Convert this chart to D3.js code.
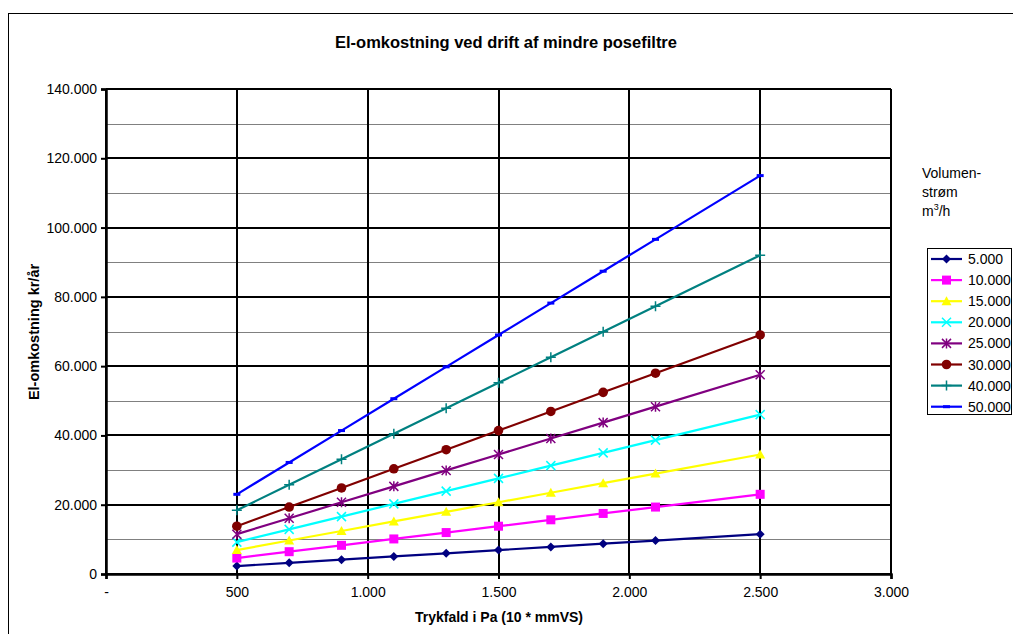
<!DOCTYPE html>
<html>
<head>
<meta charset="utf-8">
<script src="https://cdn.jsdelivr.net/npm/d3@7"></script>
<style>
  html, body { margin: 0; padding: 0; background: #fff; }
  svg { display: block; font-family: "Liberation Sans", Arial, sans-serif; }
</style>
</head>
<body>
<svg id="chart" width="1013" height="634"></svg>
<script>
// Pressure drop (Pa) at which the cost was computed
const pressureDrops = [500, 700, 900, 1100, 1300, 1500, 1700, 1900, 2100, 2500];

// Yearly electricity cost (kr/år) per air flow (m³/h)
const flow5000  = [2300, 3220, 4140, 5060, 5980, 6900, 7820, 8740, 9660, 11500];
const flow10000 = [4600, 6440, 8280, 10120, 11960, 13800, 15640, 17480, 19320, 23000];
const flow15000 = [6900, 9660, 12420, 15180, 17940, 20700, 23460, 26220, 28980, 34500];
const flow20000 = [9200, 12880, 16560, 20240, 23920, 27600, 31280, 34960, 38640, 46000];
const flow25000 = [11500, 16100, 20700, 25300, 29900, 34500, 39100, 43700, 48300, 57500];
const flow30000 = [13800, 19320, 24840, 30360, 35880, 41400, 46920, 52440, 57960, 69000];
const flow40000 = [18400, 25760, 33120, 40480, 47840, 55200, 62560, 69920, 77280, 92000];
const flow50000 = [23000, 32200, 41400, 50600, 59800, 69000, 78200, 87400, 96600, 115000];

const seriesNames = ["5.000", "10.000", "15.000", "20.000", "25.000", "30.000", "40.000", "50.000"];
const seriesValues = [flow5000, flow10000, flow15000, flow20000, flow25000, flow30000, flow40000, flow50000];
const seriesColors = ["#000080", "#FF00FF", "#FFFF00", "#00FFFF", "#800080", "#800000", "#008080", "#0000FF"];
const seriesMarkers = ["diamond", "square", "triangle", "cross", "star", "circle", "plus", "dash"];

const xTicks = [0, 500, 1000, 1500, 2000, 2500, 3000];
const yTicks = [0, 20000, 40000, 60000, 80000, 100000, 120000, 140000];
const yMinorTicks = [10000, 30000, 50000, 70000, 90000, 110000, 130000];

const svg = d3.select("#chart");
const plot = { left: 106, top: 89, right: 891, bottom: 574 };
const FONT = "Liberation Sans, Arial, sans-serif";

const x = d3.scaleLinear().domain([0, 3000]).range([plot.left, plot.right]);
const y = d3.scaleLinear().domain([0, 140000]).range([plot.bottom, plot.top]);

const dotted = v => d3.format(",")(v).replace(/,/g, ".");
const fmtX = v => v === 0 ? "-" : dotted(v);
const fmtY = v => v === 0 ? "0" : dotted(v);

// outer chart frame
svg.append("rect")
  .attr("x", 8.5).attr("y", 13.5)
  .attr("width", 1010).attr("height", 630)
  .attr("fill", "none").attr("stroke", "#000").attr("stroke-width", 1);

// title
svg.append("text")
  .attr("x", 506).attr("y", 48)
  .attr("text-anchor", "middle")
  .attr("font-size", 16.5).attr("font-weight", "bold")
  .text("El-omkostning ved drift af mindre posefiltre");

const grid = svg.append("g");

// minor horizontal gridlines
grid.selectAll("line.minor").data(yMinorTicks).enter().append("line")
  .attr("x1", plot.left).attr("x2", plot.right)
  .attr("y1", d => Math.round(y(d)) + 0.5).attr("y2", d => Math.round(y(d)) + 0.5)
  .attr("stroke", "#808080").attr("stroke-width", 1);

// major horizontal gridlines
grid.selectAll("line.hmajor").data(yTicks).enter().append("line")
  .attr("x1", plot.left).attr("x2", plot.right)
  .attr("y1", d => Math.round(y(d))).attr("y2", d => Math.round(y(d)))
  .attr("stroke", "#000").attr("stroke-width", 2);

// vertical gridlines
grid.selectAll("line.vmajor").data(xTicks).enter().append("line")
  .attr("x1", d => Math.round(x(d))).attr("x2", d => Math.round(x(d)))
  .attr("y1", plot.top).attr("y2", plot.bottom)
  .attr("stroke", "#000").attr("stroke-width", 2);

// axes
const yAxis = d3.axisLeft(y).tickValues(yTicks).tickFormat(fmtY).tickSize(5).tickPadding(4);
const gy = svg.append("g").attr("transform", `translate(${plot.left},0)`).call(yAxis);
gy.select(".domain").attr("stroke-width", 2.5);
gy.selectAll(".tick line").attr("stroke-width", 2);
gy.selectAll(".tick text").attr("font-size", 14).attr("font-family", FONT).attr("fill", "#000");

const xAxis = d3.axisBottom(x).tickValues(xTicks).tickFormat(fmtX).tickSize(5).tickPadding(8);
const gx = svg.append("g").attr("transform", `translate(0,${plot.bottom})`).call(xAxis);
gx.select(".domain").attr("stroke-width", 2.5);
gx.selectAll(".tick line").attr("stroke-width", 2);
gx.selectAll(".tick text").attr("font-size", 14).attr("font-family", FONT).attr("fill", "#000");

// axis titles
svg.append("text")
  .attr("x", 499).attr("y", 622)
  .attr("text-anchor", "middle")
  .attr("font-size", 14).attr("font-weight", "bold")
  .text("Trykfald i Pa (10 * mmVS)");

svg.append("text")
  .attr("transform", "translate(39,332) rotate(-90)")
  .attr("text-anchor", "middle")
  .attr("font-size", 14.5).attr("font-weight", "bold")
  .text("El-omkostning kr/år");

// marker drawing
function drawMarker(g, type, color) {
  switch (type) {
    case "diamond":
      g.append("path").attr("d", "M0,-4.5L4.5,0L0,4.5L-4.5,0Z").attr("fill", color);
      break;
    case "square":
      g.append("rect").attr("x", -4.5).attr("y", -4.5).attr("width", 9).attr("height", 9).attr("fill", color);
      break;
    case "triangle":
      g.append("path").attr("d", "M0,-5L5,4L-5,4Z").attr("fill", color);
      break;
    case "cross":
      g.append("path").attr("d", "M-4.5,-4.5L4.5,4.5M-4.5,4.5L4.5,-4.5").attr("stroke", color).attr("stroke-width", 1.5);
      break;
    case "star":
      g.append("path").attr("d", "M-4.5,-4.5L4.5,4.5M-4.5,4.5L4.5,-4.5M0,-5L0,5").attr("stroke", color).attr("stroke-width", 1.5);
      break;
    case "circle":
      g.append("circle").attr("r", 4.8).attr("fill", color);
      break;
    case "plus":
      g.append("path").attr("d", "M-5,0L5,0M0,-5L0,5").attr("stroke", color).attr("stroke-width", 1.5);
      break;
    case "dash":
      g.append("rect").attr("x", -3.5).attr("y", -1.5).attr("width", 7).attr("height", 3).attr("fill", color);
      break;
  }
}

const line = d3.line().x((d, i) => x(pressureDrops[i])).y(d => y(d));

const seriesG = svg.append("g");
seriesValues.forEach((vals, s) => {
  const color = seriesColors[s];
  seriesG.append("path")
    .datum(vals)
    .attr("d", line)
    .attr("fill", "none")
    .attr("stroke", color)
    .attr("stroke-width", 2.2);
  vals.forEach((v, i) => {
    const g = seriesG.append("g").attr("transform", `translate(${x(pressureDrops[i])},${y(v)})`);
    drawMarker(g, seriesMarkers[s], color);
  });
});

// legend heading
const head = svg.append("text").attr("font-size", 14);
head.append("tspan").attr("x", 922).attr("y", 178).text("Volumen-");
head.append("tspan").attr("x", 922).attr("y", 197).text("strøm");
const unit = svg.append("text").attr("font-size", 14).attr("x", 922).attr("y", 216);
unit.append("tspan").text("m");
unit.append("tspan").attr("font-size", 9).attr("dy", -6).text("3");
unit.append("tspan").attr("dy", 6).text("/h");

// legend box
svg.append("rect")
  .attr("x", 927.5).attr("y", 248.5)
  .attr("width", 84).attr("height", 166)
  .attr("fill", "#fff").attr("stroke", "#000").attr("stroke-width", 1);

seriesNames.forEach((name, s) => {
  const ly = 259 + s * 21.1;
  svg.append("line")
    .attr("x1", 931).attr("x2", 962)
    .attr("y1", ly).attr("y2", ly)
    .attr("stroke", seriesColors[s]).attr("stroke-width", 2.2);
  const g = svg.append("g").attr("transform", `translate(946.5,${ly})`);
  drawMarker(g, seriesMarkers[s], seriesColors[s]);
  svg.append("text")
    .attr("x", 968).attr("y", ly + 5)
    .attr("font-size", 14)
    .text(name);
});
</script>
</body>
</html>
